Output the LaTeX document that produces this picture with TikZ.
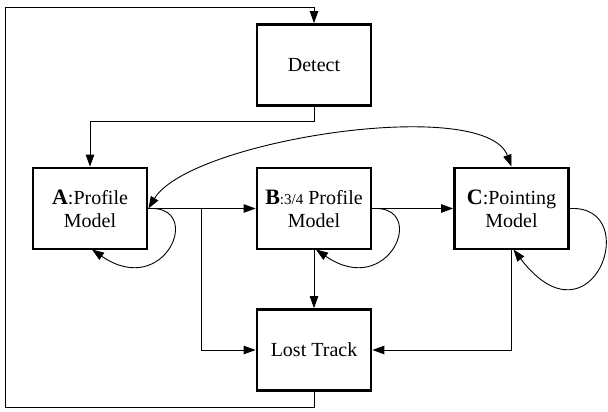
\documentclass[tikz,border=0pt]{standalone}
\usepackage{fontspec}
\setmainfont{Liberation Serif}
\usetikzlibrary{arrows.meta}
\begin{document}
\begin{tikzpicture}[x=1pt,y=-1pt,
  box/.style={draw, line width=2.8pt, minimum width=114pt, minimum height=81pt,
    align=center, inner sep=0pt, font=\fontsize{20}{23}\selectfont},
  conn/.style={line width=0.9pt, -{Triangle[length=12pt,width=8.5pt]}},
  twoway/.style={line width=0.9pt, {Triangle[length=12pt,width=8.5pt]}-{Triangle[length=12pt,width=8.5pt]}},
  tag/.style={font=\fontsize{22}{23}\selectfont\bfseries}]
\useasboundingbox (0,0) rectangle (608,412);

\node[box] (det) at (314,65) {Detect};
\node[box] (a) at (90,208.5) {{\fontsize{22}{23}\selectfont\bfseries A}:Profile\\Model};
\node[box] (b) at (314,208.5) {{\fontsize{22}{23}\selectfont\bfseries B}{\fontsize{15}{23}\selectfont:3/4} Profile\\Model};
\node[box] (c) at (511.5,208.5) {{\fontsize{22}{23}\selectfont\bfseries C}:Pointing\\Model};
\node[box] (lost) at (314,350) {Lost Track};

% return path from Lost Track back to Detect
\coordinate (r1) at (314,407);
\coordinate (r2) at (5,407);
\coordinate (r3) at (5,7);
\coordinate (r4) at (314,7);
\draw[conn] (lost.south) -- (r1) -- (r2) -- (r3) -- (r4) -- (det.north);

% Detect to A
\coordinate (d1) at (314,121);
\coordinate (d2) at (90,121);
\draw[conn] (det.south) -- (d1) -- (d2) -- (a.north);

% A to B, with branch to Lost Track
\draw[conn] (a.east) -- (b.west);
\coordinate (br) at (201.5,208.5);
\coordinate (brd) at (201.5,350);
\draw[conn] (br) -- (brd) -- (lost.west);

% B to C, B to Lost Track
\draw[conn] (b.east) -- (c.west);
\draw[conn] (b.south) -- (lost.north);

% C to Lost Track
\coordinate (cl) at (511.5,350);
\draw[conn] (c.south) -- (cl) -- (lost.east);

% long arc between A and C
\draw[twoway] (a.east) .. controls (190,140) and (485,95) .. (c.north);

% self loops
\coordinate (al) at (92,249.5);
\draw[conn] (a.east) .. controls (205,205) and (165,300) .. (al);
\coordinate (bl) at (316,249.5);
\draw[conn] (b.east) .. controls (429,205) and (389,300) .. (bl);
\coordinate (cll) at (513.5,249.5);
\draw[conn] (c.east) .. controls (645,205) and (592,352) .. (cll);
\end{tikzpicture}
\end{document}
